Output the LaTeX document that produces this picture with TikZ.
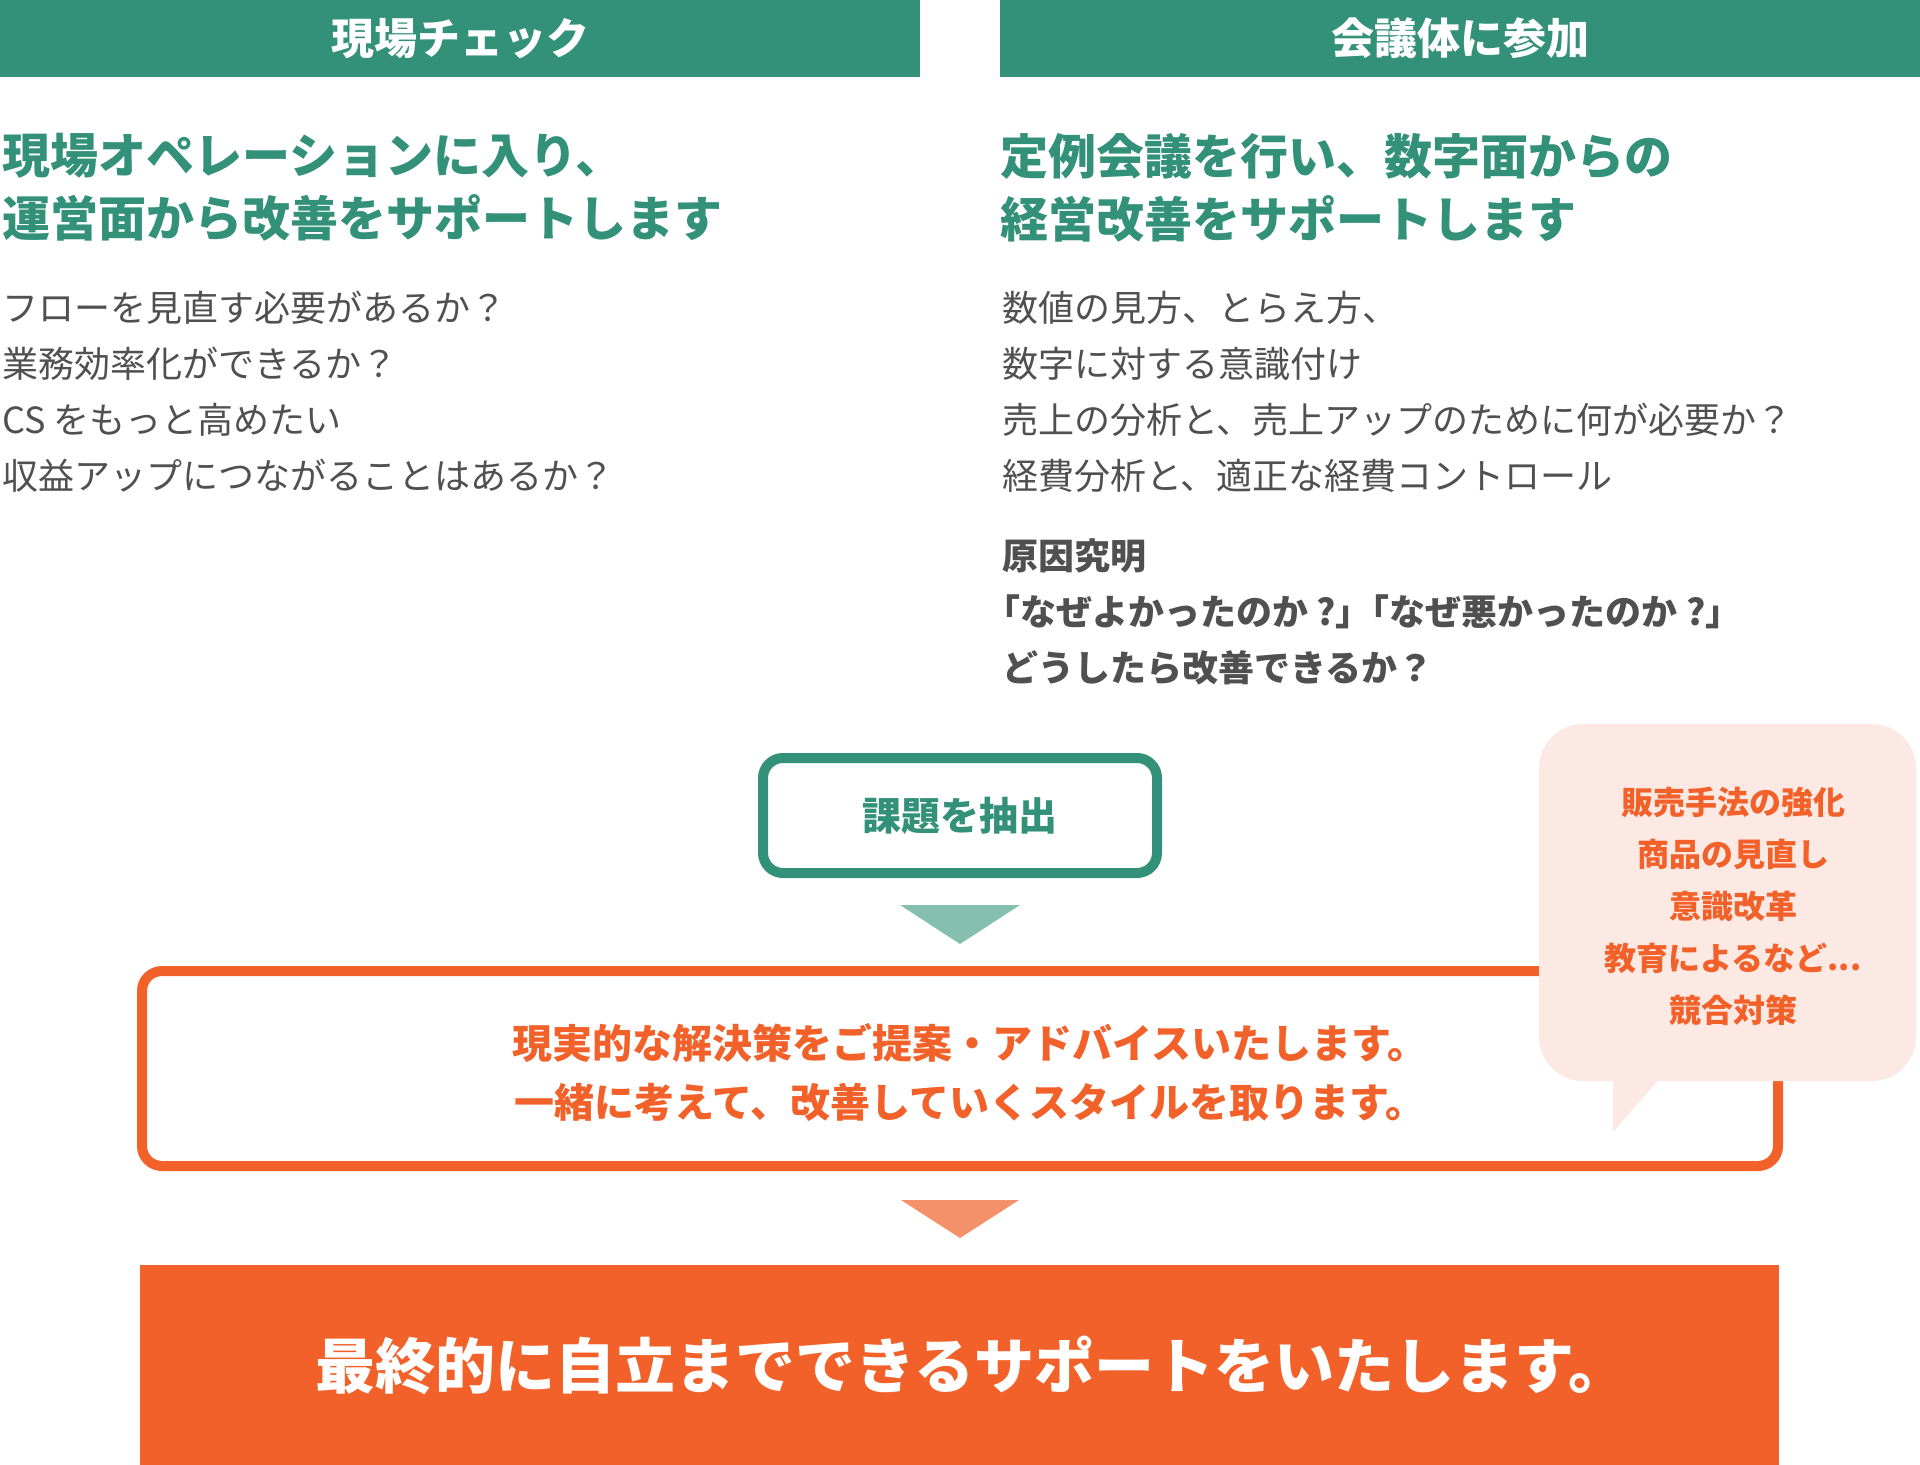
\documentclass[tikz,border=0pt]{standalone}
\usepackage{fontspec}
\setmainfont{Noto Sans CJK JP}
\definecolor{hgreen}{HTML}{329178}
\definecolor{lgreen}{HTML}{85BFAD}
\definecolor{horange}{HTML}{F26129}
\definecolor{lorange}{HTML}{F5916A}
\definecolor{bpink}{HTML}{FDE9E4}
\definecolor{tgray}{HTML}{505050}
\begin{document}
\begin{tikzpicture}[
    x=0.5pt, y=-0.5pt,
    hdr/.style={fill=hgreen, text=white, inner sep=0pt, minimum width=460pt, minimum height=38.5pt, font=\bfseries\fontsize{21.5}{26}\selectfont},
    lead/.style={anchor=north west, inner sep=0pt, align=left, text=hgreen, font=\bfseries\fontsize{24}{31.5}\selectfont},
    body/.style={anchor=north west, inner sep=0pt, align=left, text=tgray, font=\fontsize{18}{28}\selectfont},
    stepbox/.style={draw, line width=5pt, rounded corners=10pt, inner sep=0pt, align=center},
    note/.style={inner sep=0pt, align=center, text=horange, font=\bfseries\fontsize{16}{26}\selectfont}
  ]
  \useasboundingbox (0,0) rectangle (1920,1465);

  % two columns
  \node[hdr] (hdrL) at (460,38.5) {現場チェック};
  \node[hdr] (hdrR) at (1460,38.5) {会議体に参加};

  \node[lead] (leadL) at (2,133) {現場オペレーションに入り、\\運営面から改善をサポートします};
  \node[lead] (leadR) at (1000,133) {定例会議を行い、数字面からの\\経営改善をサポートします};

  \node[body] (bodyL) at (2,291) {フローを見直す必要があるか？\\業務効率化ができるか？\\CS をもっと高めたい\\収益アップにつながることはあるか？};
  \node[body] (bodyR) at (1002,291) {数値の見方、とらえ方、\\数字に対する意識付け\\売上の分析と、売上アップのために何が必要か？\\経費分析と、適正な経費コントロール};
  \node[body, font=\bfseries\fontsize{18}{28}\selectfont] (cause) at (1002,538) {原因究明\\\hspace{-0.5em}「なぜよかったのか ?」\hspace{-0.5em}「なぜ悪かったのか ?」\\どうしたら改善できるか？};

  % flow
  \node[stepbox, draw=hgreen, text=hgreen, minimum width=197pt, minimum height=57.5pt, font=\bfseries\fontsize{19.5}{24}\selectfont] (extract) at (960,815.5) {課題を抽出};
  \fill[lgreen] (900,905) -- (1020,905) -- (960,944) -- cycle;

  \node[stepbox, draw=horange, text=horange, minimum width=818pt, minimum height=97.5pt, font=\bfseries\fontsize{20}{29.5}\selectfont] (advice) at (960,1068.5) {};
  \node[inner sep=0pt, align=center, text=horange, font=\bfseries\fontsize{20}{29.5}\selectfont] (adviceText) at (970,1072) {現実的な解決策をご提案・アドバイスいたします。\\一緒に考えて、改善していくスタイルを取ります。};

  % speech bubble
  \fill[bpink, rounded corners=22pt] (1539,724) rectangle (1916,1081);
  \fill[bpink] (1613,1075) -- (1663,1075) -- (1613,1132) -- cycle;
  \node[note] (tips) at (1733,906) {販売手法の強化\\商品の見直し\\意識改革\\教育によるなど...\\競合対策};

  \fill[lorange] (901,1200) -- (1019,1200) -- (960,1238) -- cycle;

  \node[fill=horange, inner sep=0pt, minimum width=819.5pt, minimum height=100pt] (goal) at (959.5,1365) {};
  \node[text=white, inner sep=0pt, font=\bfseries\fontsize{30}{36}\selectfont] (goalText) at (972,1365) {最終的に自立までできるサポートをいたします。};
\end{tikzpicture}
\end{document}
